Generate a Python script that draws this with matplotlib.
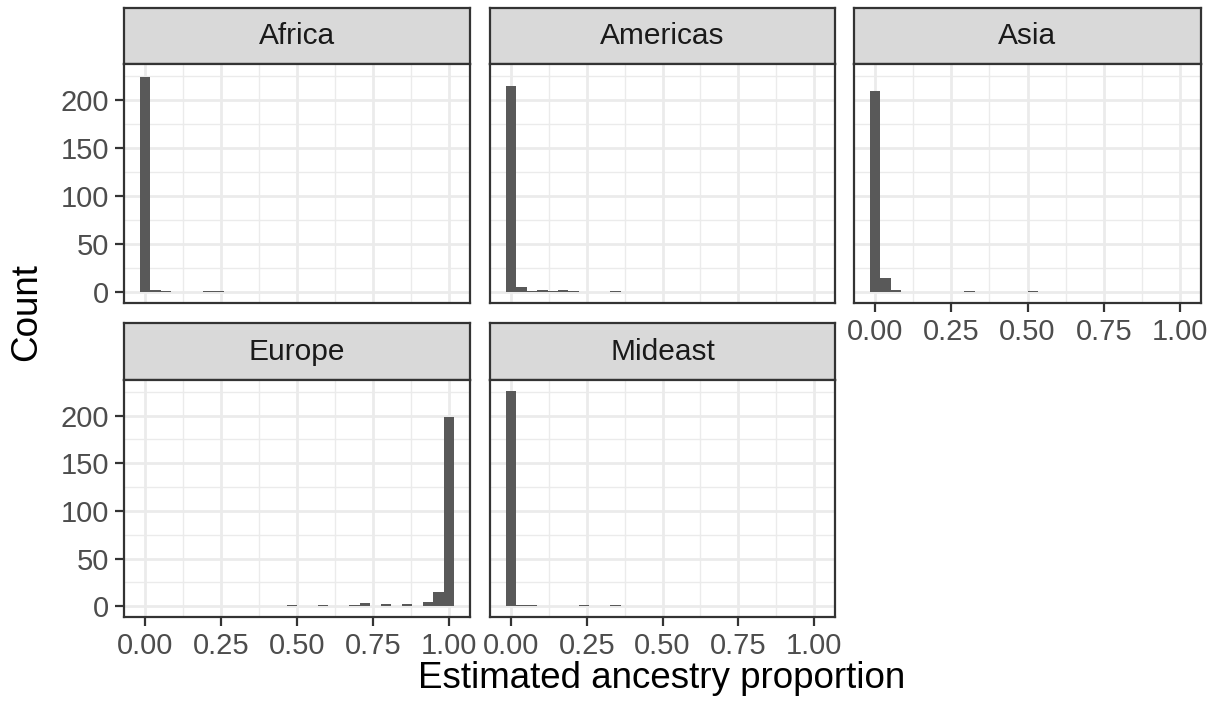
import numpy as np
import matplotlib
matplotlib.use("Agg")
import matplotlib.pyplot as plt

plt.rcParams['font.family'] = ['Liberation Sans', 'DejaVu Sans']

# histogram counts, 30 bins centred on k/29 (k = 0..29)
regions = ["Africa", "Americas", "Asia", "Europe", "Mideast"]
nbins = 30
bin_centers = np.arange(nbins) / (nbins - 1)
bin_width = 1 / (nbins - 1)

africa = np.zeros(nbins)
africa[[0, 1, 2, 6, 7]] = [224, 2, 1, 1, 1]
americas = np.zeros(nbins)
americas[[0, 1, 2, 3, 4, 5, 6, 10]] = [214, 5, 1, 2, 1, 2, 1, 1]
asia = np.zeros(nbins)
asia[[0, 1, 2, 9, 15]] = [209, 15, 2, 1, 1]
europe = np.zeros(nbins)
europe[[14, 17, 20, 21, 23, 25, 27, 28, 29]] = [1, 1, 1, 3, 2, 2, 4, 15, 198]
mideast = np.zeros(nbins)
mideast[[0, 1, 2, 7, 10]] = [226, 1, 1, 1, 1]
counts = [africa, americas, asia, europe, mideast]

x_ticks = [0, 0.25, 0.5, 0.75, 1.0]
x_labels = ["0.00", "0.25", "0.50", "0.75", "1.00"]
y_ticks = [0, 50, 100, 150, 200]

W, H = 1213, 707
fig = plt.figure(figsize=(W / 100, H / 100), dpi=100)

def rect(x0, y0, x1, y1):
    # pixel box (top-left origin) -> figure fraction
    return [x0 / W, 1 - y1 / H, (x1 - x0) / W, (y1 - y0) / H]

col_x = [(124, 470), (490, 835), (854, 1201)]
rows = [((8, 64), (64, 303)), ((323, 380), (380, 617))]

ymax = max(c.max() for c in counts)
ylim = (-0.05 * ymax, 1.05 * ymax)
lo, hi = -bin_width / 2, 1 + bin_width / 2
pad = 0.05 * (hi - lo)
xlim = (lo - pad, hi + pad)

for i, (name, c) in enumerate(zip(regions, counts)):
    r, col = divmod(i, 3)
    (sy0, sy1), (py0, py1) = rows[r]
    x0, x1 = col_x[col]

    # strip
    sax = fig.add_axes(rect(x0, sy0, x1, sy1))
    sax.set_facecolor("#D9D9D9")
    sax.set_xticks([]); sax.set_yticks([])
    for s in sax.spines.values():
        s.set_color("#333333"); s.set_linewidth(1.6)
    sax.text(0.5, 0.5, name, ha="center", va="center", fontsize=21.5,
             color="#1A1A1A", transform=sax.transAxes)

    ax = fig.add_axes(rect(x0, py0, x1, py1))
    ax.bar(bin_centers, c, width=bin_width, color="#595959", linewidth=0, zorder=3)
    ax.set_xlim(xlim); ax.set_ylim(ylim)
    ax.set_xticks(x_ticks)
    ax.set_xticks([0.125, 0.375, 0.625, 0.875], minor=True)
    ax.set_yticks(y_ticks)
    ax.set_yticks([25, 75, 125, 175, 225], minor=True)
    ax.grid(which="major", color="#EBEBEB", linewidth=2.0, zorder=0)
    ax.grid(which="minor", color="#EBEBEB", linewidth=1.0, zorder=0)
    ax.set_axisbelow(True)
    for s in ax.spines.values():
        s.set_color("#333333"); s.set_linewidth(1.6); s.set_zorder(5)
    ax.tick_params(which="minor", length=0)
    ax.tick_params(which="major", length=6.5, width=1.6, color="#333333",
                   labelsize=21, labelcolor="#4D4D4D", pad=4)

    show_x = (r == 1) or (col == 2)
    show_y = col == 0
    if show_x:
        ax.set_xticklabels(x_labels)
    else:
        ax.tick_params(axis="x", which="major", length=0, labelbottom=False)
    if not show_y:
        ax.tick_params(axis="y", which="major", length=0, labelleft=False)

fig.text(662 / W, 1 - 678 / H, "Estimated ancestry proportion", ha="center",
         va="center", fontsize=26.5, color="black")
fig.text(27 / W, 1 - 312 / H, "Count", ha="center", va="center", rotation=90,
         fontsize=26.5, color="black")

fig.savefig("out.png", dpi=100, facecolor="white")
